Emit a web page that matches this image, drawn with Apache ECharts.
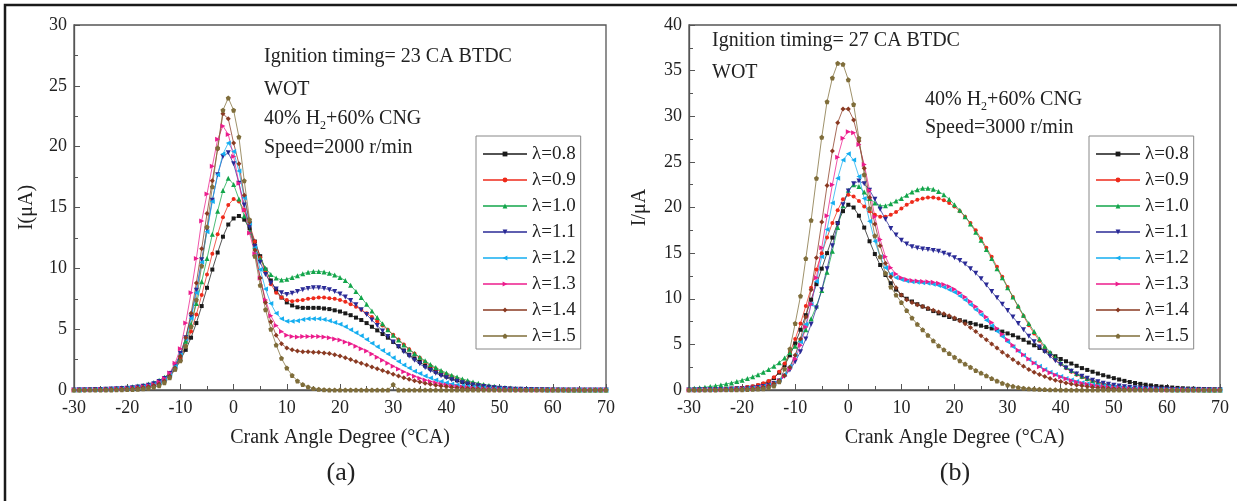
<!DOCTYPE html>
<html>
<head>
<meta charset="utf-8">
<script src="https://cdn.jsdelivr.net/npm/echarts@6/dist/echarts.min.js"></script>
<style>html,body{margin:0;padding:0;background:#fff}#main{width:1237px;height:501px}</style>
</head>
<body>
<div id="main"></div>
<script>
// crank angle, one reading per degree
const angles = [-30,-29,-28,-27,-26,-25,-24,-23,-22,-21,-20,-19,-18,-17,-16,-15,-14,-13,-12,-11,
  -10,-9,-8,-7,-6,-5,-4,-3,-2,-1,0,1,2,3,4,5,6,7,8,9,10,11,12,13,14,15,16,17,18,19,
  20,21,22,23,24,25,26,27,28,29,30,31,32,33,34,35,36,37,38,39,40,41,42,43,44,45,46,47,48,49,
  50,51,52,53,54,55,56,57,58,59,60,61,62,63,64,65,66,67,68,69,70];

const names = ['λ=0.8', 'λ=0.9', 'λ=1.0', 'λ=1.1', 'λ=1.2', 'λ=1.3', 'λ=1.4', 'λ=1.5'];

// (a) 2000 r/min, ion current in µA
const a08 = [0,0,0,0.02,0.03,0.04,0.05,0.06,0.08,0.1,
  0.12,0.15,0.2,0.26,0.34,0.45,0.6,0.85,1.2,1.7,
  2.5,3.3,4.3,5.5,6.9,8.4,9.9,11.3,12.6,13.6,
  14.1,14.3,14.0,13.3,12.2,11.0,9.9,9.0,8.2,7.6,
  7.2,6.95,6.8,6.75,6.75,6.75,6.75,6.7,6.65,6.55,
  6.45,6.3,6.15,5.95,5.75,5.5,5.2,4.9,4.6,4.3,
  3.95,3.6,3.25,2.9,2.6,2.3,2.0,1.75,1.5,1.3,
  1.1,0.95,0.8,0.65,0.55,0.45,0.37,0.3,0.24,0.19,
  0.15,0.12,0.1,0.08,0.06,0.05,0.04,0.03,0.03,0.02,
  0.02,0.02,0.01,0.01,0.01,0.01,0,0,0,0,0];
const a09 = [0,0,0,0.02,0.03,0.04,0.05,0.07,0.09,0.11,
  0.14,0.18,0.23,0.3,0.4,0.52,0.7,0.95,1.3,1.9,
  2.7,3.6,4.8,6.2,7.8,9.5,11.2,12.8,14.2,15.2,
  15.7,15.5,14.8,13.6,12.2,10.9,9.7,8.7,8.0,7.6,
  7.4,7.3,7.35,7.4,7.5,7.55,7.6,7.6,7.55,7.5,
  7.4,7.25,7.05,6.85,6.6,6.3,6.0,5.65,5.3,4.95,
  4.55,4.15,3.75,3.35,3.0,2.65,2.3,2.0,1.75,1.5,
  1.3,1.1,0.92,0.78,0.65,0.54,0.44,0.36,0.29,0.23,
  0.19,0.15,0.12,0.1,0.08,0.06,0.05,0.04,0.03,0.03,
  0.02,0.02,0.02,0.01,0.01,0.01,0,0,0,0,0];
const a10 = [0.02,0.03,0.04,0.05,0.06,0.08,0.1,0.12,0.15,0.18,
  0.22,0.27,0.33,0.4,0.5,0.62,0.8,1.05,1.4,2.0,
  2.9,4.0,5.4,7.1,8.9,10.8,12.8,14.7,16.4,17.4,
  16.9,15.7,14.3,13.0,11.8,10.8,10.0,9.5,9.2,9.05,
  9.1,9.25,9.4,9.55,9.68,9.75,9.75,9.7,9.6,9.45,
  9.25,9.0,8.6,8.1,7.6,7.05,6.5,5.95,5.45,4.95,
  4.5,4.1,3.7,3.35,3.0,2.7,2.4,2.1,1.85,1.6,
  1.4,1.22,1.06,0.91,0.78,0.66,0.55,0.46,0.38,0.31,
  0.25,0.2,0.16,0.13,0.1,0.08,0.06,0.05,0.04,0.03,
  0.03,0.02,0.02,0.01,0.01,0.01,0.01,0,0,0,0];
const a11 = [0.01,0.02,0.02,0.03,0.04,0.05,0.06,0.08,0.1,0.12,
  0.15,0.19,0.24,0.31,0.4,0.52,0.7,0.95,1.35,2.0,
  3.0,4.3,6.0,8.2,10.7,13.2,15.6,17.7,19.2,19.5,
  18.6,17.0,15.2,13.4,11.8,10.5,9.5,8.8,8.3,8.0,
  7.85,7.95,8.1,8.25,8.35,8.4,8.4,8.35,8.25,8.1,
  7.9,7.65,7.35,7.0,6.6,6.2,5.75,5.3,4.85,4.4,
  3.95,3.55,3.15,2.8,2.45,2.15,1.85,1.6,1.38,1.18,
  1.0,0.85,0.72,0.6,0.5,0.42,0.34,0.28,0.23,0.18,
  0.15,0.12,0.09,0.07,0.06,0.05,0.04,0.03,0.02,0.02,
  0.01,0.01,0.01,0.01,0,0,0,0,0,0,0];
const a12 = [0.01,0.01,0.02,0.02,0.03,0.04,0.05,0.06,0.08,0.1,
  0.12,0.15,0.2,0.26,0.34,0.45,0.62,0.88,1.3,1.95,
  2.9,4.2,5.9,8.0,10.5,13.0,15.5,17.7,19.4,20.3,
  19.6,18.0,15.8,13.7,11.7,9.9,8.3,7.1,6.3,5.85,
  5.65,5.65,5.7,5.8,5.85,5.85,5.85,5.8,5.7,5.55,
  5.4,5.2,4.95,4.7,4.45,4.15,3.85,3.55,3.25,2.95,
  2.65,2.35,2.05,1.8,1.55,1.35,1.15,0.98,0.83,0.7,
  0.6,0.5,0.42,0.35,0.29,0.24,0.2,0.16,0.13,0.1,
  0.08,0.07,0.05,0.04,0.03,0.03,0.02,0.02,0.01,0.01,
  0.01,0.01,0,0,0,0,0,0,0,0,0];
const a13 = [0.01,0.01,0.02,0.02,0.03,0.04,0.05,0.06,0.08,0.1,
  0.12,0.15,0.2,0.26,0.34,0.45,0.65,0.95,1.4,2.2,
  3.4,5.5,8.0,10.8,13.9,16.1,18.4,20.6,21.7,21.0,
  19.2,17.0,14.8,12.9,11.2,9.2,7.4,6.1,5.3,4.8,
  4.5,4.4,4.35,4.4,4.4,4.4,4.4,4.35,4.3,4.2,
  4.1,3.95,3.8,3.6,3.4,3.2,2.95,2.7,2.45,2.2,
  1.95,1.72,1.5,1.3,1.12,0.96,0.82,0.7,0.59,0.5,
  0.42,0.35,0.29,0.24,0.2,0.16,0.13,0.1,0.08,0.06,
  0.05,0.04,0.03,0.02,0.02,0.01,0.01,0.01,0.01,0,
  0,0,0,0,0,0,0,0,0,0,0];
const a14 = [0,0.01,0.01,0.02,0.02,0.03,0.04,0.05,0.06,0.08,
  0.1,0.12,0.16,0.2,0.27,0.36,0.5,0.75,1.15,1.8,
  2.8,4.3,6.3,8.8,11.6,14.5,17.2,19.8,22.7,22.3,
  20.3,18.6,16.0,13.8,11.5,9.2,7.2,5.6,4.5,3.8,
  3.45,3.3,3.2,3.15,3.15,3.1,3.1,3.05,3.0,2.9,
  2.8,2.65,2.5,2.35,2.2,2.05,1.9,1.75,1.6,1.45,
  1.3,1.15,1.0,0.88,0.76,0.65,0.55,0.47,0.4,0.33,
  0.28,0.23,0.19,0.15,0.12,0.1,0.08,0.06,0.05,0.04,
  0.03,0.02,0.02,0.01,0.01,0.01,0,0,0,0,
  0,0,0,0,0,0,0,0,0,0,0];
const a15 = [0,0,0,0,0,0,0.01,0.01,0.02,0.03,
  0.04,0.05,0.07,0.1,0.15,0.22,0.35,0.6,1.0,1.7,
  2.4,3.6,5.2,7.4,10.2,13.4,16.7,19.9,23.0,24.0,
  23.0,20.8,17.2,14.0,11.0,8.6,6.6,5.0,3.7,2.6,
  1.8,1.2,0.75,0.45,0.25,0.12,0.06,0.03,0.01,0,
  0,0,0,0,0,0,0,0,0,0,
  0.45,0,0,0,0,0,0,0,0,0,
  0,0,0,0,0,0,0,0,0,0,
  0,0,0,0,0,0,0,0,0,0,
  0,0,0,0,0,0,0,0,0,0,0];

// (b) 3000 r/min
const b08 = [0.02,0.03,0.04,0.05,0.06,0.08,0.1,0.12,0.15,0.18,
  0.22,0.28,0.36,0.48,0.65,0.9,1.3,1.9,2.7,3.8,
  5.1,6.6,8.2,9.9,11.6,13.3,15.0,16.7,18.3,19.6,
  20.3,20.0,19.1,17.8,16.3,14.9,13.7,12.6,11.7,11.0,
  10.4,10.0,9.7,9.4,9.15,8.9,8.65,8.4,8.2,8.0,
  7.8,7.65,7.5,7.35,7.2,7.05,6.9,6.75,6.6,6.4,
  6.2,6.0,5.75,5.5,5.2,4.9,4.6,4.3,4.0,3.7,
  3.4,3.15,2.9,2.65,2.4,2.2,2.0,1.8,1.62,1.46,
  1.3,1.15,1.0,0.88,0.77,0.67,0.58,0.5,0.43,0.37,
  0.32,0.27,0.23,0.19,0.16,0.14,0.12,0.1,0.08,0.07,0.06];
const b09 = [0.02,0.03,0.04,0.05,0.06,0.08,0.1,0.13,0.16,0.2,
  0.25,0.32,0.42,0.56,0.75,1.0,1.4,2.0,2.9,4.1,
  5.6,7.3,9.2,11.2,13.2,15.0,16.7,18.3,19.7,20.9,
  21.4,21.2,20.7,20.1,19.6,19.2,19.0,19.0,19.2,19.5,
  19.9,20.3,20.6,20.85,21.0,21.1,21.1,21.0,20.8,20.5,
  20.1,19.6,19.0,18.3,17.5,16.6,15.6,14.6,13.5,12.4,
  11.3,10.2,9.1,8.1,7.1,6.2,5.4,4.6,3.95,3.35,
  2.85,2.4,2.0,1.68,1.4,1.16,0.96,0.8,0.66,0.54,
  0.45,0.37,0.3,0.25,0.2,0.16,0.13,0.11,0.09,0.07,
  0.06,0.05,0.04,0.03,0.03,0.02,0.02,0.02,0.01,0.01,0.01];
const b10 = [0.15,0.2,0.25,0.3,0.38,0.46,0.55,0.66,0.78,0.92,
  1.08,1.25,1.45,1.68,1.95,2.25,2.6,3.0,3.5,4.1,
  4.8,5.6,6.6,7.8,9.2,10.9,12.9,15.2,17.8,20.2,
  21.9,22.5,22.3,21.7,21.0,20.5,20.2,20.2,20.4,20.7,
  21.0,21.35,21.7,21.95,22.1,22.1,22.0,21.75,21.4,20.9,
  20.3,19.7,19.0,18.2,17.3,16.4,15.4,14.4,13.3,12.3,
  11.2,10.2,9.2,8.2,7.3,6.4,5.6,4.8,4.15,3.55,
  3.0,2.55,2.15,1.8,1.5,1.25,1.03,0.85,0.7,0.57,
  0.47,0.38,0.31,0.25,0.2,0.16,0.13,0.1,0.08,0.07,
  0.05,0.04,0.04,0.03,0.02,0.02,0.02,0.01,0.01,0.01,0.01];
const b11 = [0.01,0.01,0.02,0.02,0.03,0.04,0.05,0.06,0.08,0.1,
  0.12,0.15,0.2,0.27,0.37,0.5,0.7,1.0,1.5,2.2,
  3.1,4.2,5.6,7.2,9.0,11.0,13.3,15.8,18.2,20.3,
  21.8,22.6,22.9,22.6,21.9,20.9,19.8,18.7,17.7,17.0,
  16.4,16.0,15.7,15.55,15.45,15.4,15.3,15.2,15.0,14.8,
  14.5,14.2,13.8,13.3,12.8,12.2,11.5,10.8,10.1,9.4,
  8.7,8.0,7.3,6.6,5.9,5.3,4.7,4.2,3.7,3.2,
  2.8,2.4,2.05,1.75,1.5,1.28,1.08,0.9,0.75,0.62,
  0.52,0.43,0.35,0.29,0.24,0.2,0.16,0.13,0.11,0.09,
  0.07,0.06,0.05,0.04,0.03,0.03,0.02,0.02,0.02,0.01,0.01];
const b12 = [0.01,0.01,0.02,0.02,0.03,0.04,0.05,0.06,0.08,0.1,
  0.12,0.16,0.21,0.28,0.38,0.52,0.75,1.1,1.7,2.6,
  3.8,5.3,7.2,9.4,11.9,14.6,17.6,20.5,23.2,25.2,
  25.9,25.2,23.4,21.0,18.5,16.3,14.6,13.4,12.7,12.3,
  12.1,11.95,11.85,11.8,11.75,11.7,11.6,11.45,11.25,11.0,
  10.7,10.3,9.85,9.35,8.8,8.25,7.65,7.05,6.45,5.85,
  5.3,4.75,4.25,3.8,3.35,2.95,2.6,2.25,1.95,1.7,
  1.47,1.27,1.09,0.93,0.8,0.68,0.58,0.49,0.41,0.35,
  0.29,0.24,0.2,0.17,0.14,0.11,0.09,0.08,0.06,0.05,
  0.04,0.04,0.03,0.02,0.02,0.02,0.01,0.01,0.01,0.01,0];
const b13 = [0.01,0.01,0.01,0.02,0.02,0.03,0.04,0.05,0.06,0.08,
  0.1,0.13,0.17,0.23,0.32,0.45,0.66,1.0,1.5,2.3,
  3.4,4.9,6.9,9.4,12.3,15.6,19.1,22.5,25.5,27.6,
  28.3,28.2,26.9,24.7,21.9,19.0,16.5,14.6,13.4,12.7,
  12.3,12.1,12.0,11.95,11.9,11.85,11.8,11.7,11.55,11.35,
  11.05,10.65,10.2,9.7,9.15,8.6,8.0,7.4,6.75,6.1,
  5.5,4.9,4.35,3.85,3.4,2.95,2.55,2.2,1.9,1.65,
  1.42,1.22,1.04,0.88,0.75,0.63,0.53,0.44,0.37,0.31,
  0.26,0.21,0.17,0.14,0.11,0.09,0.08,0.06,0.05,0.04,
  0.03,0.03,0.02,0.02,0.01,0.01,0.01,0.01,0,0,0];
const b14 = [0.01,0.01,0.01,0.02,0.02,0.03,0.04,0.05,0.06,0.08,
  0.1,0.13,0.17,0.23,0.32,0.46,0.7,1.05,1.6,2.5,
  3.8,5.6,8.0,11.0,14.5,18.4,22.4,26.2,29.3,30.8,
  30.8,29.6,27.3,24.3,21.1,18.2,15.8,13.9,12.4,11.2,
  10.4,9.9,9.6,9.35,9.15,8.95,8.75,8.55,8.35,8.15,
  7.9,7.6,7.25,6.85,6.4,5.95,5.5,5.05,4.6,4.15,
  3.75,3.35,2.95,2.6,2.25,1.95,1.7,1.47,1.26,1.08,
  0.92,0.78,0.66,0.55,0.46,0.38,0.31,0.26,0.21,0.17,
  0.14,0.11,0.09,0.07,0.06,0.05,0.04,0.03,0.02,0.02,
  0.01,0.01,0.01,0.01,0,0,0,0,0,0,0];
const b15 = [0,0,0,0,0.01,0.01,0.02,0.02,0.03,0.03,
  0.04,0.05,0.07,0.1,0.15,0.25,0.45,0.9,2.3,4.5,
  7.3,10.3,14.4,18.6,23.2,27.7,31.6,34.2,35.8,35.7,
  34.0,31.3,27.6,23.6,19.9,16.9,14.6,12.8,11.3,10.4,
  9.6,8.7,7.9,7.2,6.6,6.0,5.4,4.85,4.4,4.0,
  3.6,3.2,2.85,2.5,2.15,1.85,1.55,1.25,1.0,0.75,
  0.55,0.4,0.28,0.2,0.14,0.1,0.07,0.05,0.03,0.02,
  0.01,0.01,0,0,0,0,0,0,0,0,
  0,0,0,0,0,0,0,0,0,0,
  0,0,0,0,0,0,0,0,0,0,0];

const panelA = [a08, a09, a10, a11, a12, a13, a14, a15];
const panelB = [b08, b09, b10, b11, b12, b13, b14, b15];

const colors = ['#1a1a1a', '#ee2a1a', '#12a54a', '#2a2a96', '#14aef0', '#ec1c8c', '#8a3a22', '#7f6d3a'];
const symbols = ['rect', 'circle', 'triangle', 'triangle', 'triangle', 'triangle', 'diamond',
  'path://M0,-10 L9.5,-3.1 L5.9,8.1 L-5.9,8.1 L-9.5,-3.1 Z'];
const rotations = [0, 0, 0, 180, 90, -90, 0, 0];
const sizes = [4, 4, 5, 5, 5, 5, 5, 5];

const serif = '"Liberation Serif", "Times New Roman", serif';
const ink = '#222';
const axisGrey = '#555';

const chart = echarts.init(document.getElementById('main'));

const makeX = (gi) => ({
  type: 'value', gridIndex: gi, min: -30, max: 70, interval: 10,
  name: 'Crank Angle Degree (°CA)', nameLocation: 'middle', nameGap: 38,
  nameTextStyle: { fontFamily: serif, fontSize: 20, color: ink },
  axisLine: { onZero: false, lineStyle: { color: axisGrey, width: 1.3 } },
  axisTick: { inside: true, length: 6, lineStyle: { color: axisGrey } },
  minorTick: { show: true, splitNumber: 2, length: 4, lineStyle: { color: axisGrey } },
  splitLine: { show: false },
  axisLabel: { fontFamily: serif, fontSize: 18, color: ink, margin: 9 }
});

const makeY = (gi, max, name, gap) => ({
  type: 'value', gridIndex: gi, min: 0, max: max, interval: 5,
  name: name, nameLocation: 'middle', nameGap: gap,
  nameTextStyle: { fontFamily: serif, fontSize: 20, color: ink },
  axisLine: { show: true, onZero: false, lineStyle: { color: axisGrey, width: 1.3 } },
  axisTick: { show: true, inside: true, length: 6, lineStyle: { color: axisGrey } },
  minorTick: { show: true, splitNumber: 2, length: 4, lineStyle: { color: axisGrey } },
  splitLine: { show: false },
  axisLabel: { fontFamily: serif, fontSize: 18, color: ink, margin: 7 }
});

const makeSeries = (values, i, gi) => ({
  name: names[i],
  type: 'line',
  xAxisIndex: gi,
  yAxisIndex: gi,
  data: angles.map((x, k) => [x, values[k]]),
  color: colors[i],
  symbol: symbols[i],
  symbolSize: sizes[i],
  symbolRotate: rotations[i],
  showAllSymbol: true,
  lineStyle: { width: 1, opacity: 0.75 },
  emphasis: { disabled: true },
  animation: false
});

const makeLegend = (left) => ({
  orient: 'vertical',
  left: left, top: 136,
  data: names,
  itemWidth: 44, itemHeight: 6, itemGap: 6,
  padding: [8, 5, 3, 6],
  borderColor: '#888', borderWidth: 1,
  backgroundColor: '#fff',
  textStyle: { fontFamily: serif, fontSize: 19, color: ink, lineHeight: 20 }
});

const label = (x, y, text, size) => ({
  type: 'text', x: x, y: y, silent: true,
  style: { text: text, fontFamily: serif, fontSize: size || 20, fill: ink, verticalAlign: 'middle' }
});

const mixLabel = (x, y, before, after) => ({
  type: 'text', x: x, y: y - 10, silent: true,
  style: {
    text: before + '{s|2}' + after,
    fontFamily: serif, fontSize: 20, fill: ink, verticalAlign: 'top',
    rich: { s: { fontFamily: serif, fontSize: 12, fill: ink, verticalAlign: 'top', padding: [14, 0, 0, 0] } }
  }
});

chart.setOption({
  backgroundColor: '#fff',
  animation: false,
  grid: [
    { left: 74, top: 25, width: 532, height: 365, show: true, borderColor: axisGrey, borderWidth: 1.3, backgroundColor: 'transparent' },
    { left: 689, top: 25, width: 531, height: 365, show: true, borderColor: axisGrey, borderWidth: 1.3, backgroundColor: 'transparent' }
  ],
  xAxis: [makeX(0), makeX(1)],
  yAxis: [makeY(0, 30, 'I(μA)', 37), makeY(1, 40, 'I/μA', 39)],
  legend: [makeLegend(476), makeLegend(1089)],
  series: panelA.map((v, i) => makeSeries(v, i, 0)).concat(panelB.map((v, i) => makeSeries(v, i, 1))),
  graphic: [
    { type: 'rect', silent: true, shape: { x: 5, y: 5, width: 1400, height: 700 },
      style: { fill: 'none', stroke: '#1a1a1a', lineWidth: 2.5 } },
    label(264, 57, 'Ignition timing= 23 CA BTDC'),
    label(264, 90, 'WOT'),
    mixLabel(264, 116, '40% H', '+60% CNG'),
    label(264, 148, 'Speed=2000 r/min'),
    label(712, 41, 'Ignition timing= 27 CA BTDC'),
    label(712, 73, 'WOT'),
    mixLabel(925, 97, '40% H', '+60% CNG'),
    label(925, 128, 'Speed=3000 r/min'),
    { type: 'text', x: 341, y: 473, silent: true,
      style: { text: '(a)', fontFamily: serif, fontSize: 26, fill: ink, align: 'center', verticalAlign: 'middle' } },
    { type: 'text', x: 955, y: 473, silent: true,
      style: { text: '(b)', fontFamily: serif, fontSize: 26, fill: ink, align: 'center', verticalAlign: 'middle' } }
  ]
});
</script>
</body>
</html>
